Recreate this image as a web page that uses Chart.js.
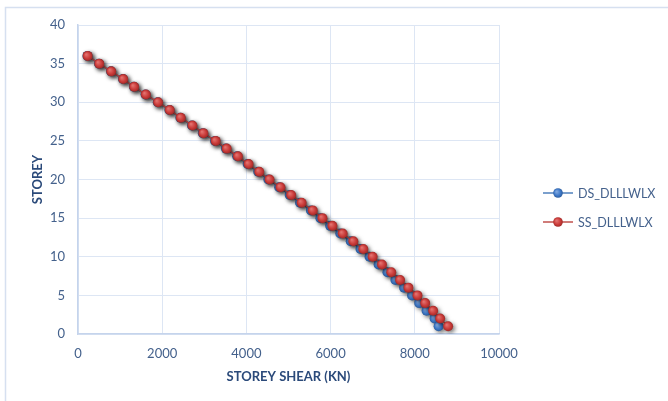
<!DOCTYPE html>
<html>
<head>
<meta charset="utf-8">
<script src="https://cdn.jsdelivr.net/npm/chart.js@4/dist/chart.umd.min.js"></script>
<style>
  html, body { margin: 0; padding: 0; background: #ffffff; }
  #wrap { width: 668px; height: 401px; position: relative; }
</style>
</head>
<body>
<div id="wrap"><canvas id="c" width="668" height="401"></canvas></div>
<script>
// Storey numbers, top to bottom
const storeys = [36,35,34,33,32,31,30,29,28,27,26,25,24,23,22,21,20,19,18,17,16,15,14,13,12,11,10,9,8,7,6,5,4,3,2,1];

// Storey shear (kN) for each load case
const dsShear = [225,500,784,1068,1328,1604,1895,2171,2431,2707,2965,3255,3514,3780,4030,4280,4522,4778,5028,5273,5533,5758,5990,6230,6478,6710,6925,7140,7350,7540,7745,7935,8105,8280,8470,8565];
const ssShear = [229,505,789,1074,1334,1611,1903,2180,2441,2718,2978,3270,3531,3799,4052,4305,4550,4810,5063,5312,5576,5806,6043,6287,6540,6777,6998,7220,7441,7650,7848,8064,8246,8436,8602,8791];

const seriesNames = ['DS_DLLLWLX', 'SS_DLLLWLX'];
const xTicks = [0, 2000, 4000, 6000, 8000, 10000];
const yTicks = [0, 5, 10, 15, 20, 25, 30, 35, 40];

const FONT = 'Lato, "Open Sans", "Liberation Sans", sans-serif';
const TICK_COLOR = '#44618c';
const TITLE_COLOR = '#2b4a7a';
const GRID_COLOR = '#dde6f4';

function toPoints(xs) {
  return xs.map((v, i) => ({ x: v, y: storeys[i] }));
}

// Shaded marker fill, like a lit bead
function beadFill(light, base, dark) {
  return function (c) {
    const chart = c.chart;
    if (!c.parsed || !chart.scales.x) return base;
    const px = chart.scales.x.getPixelForValue(c.parsed.x);
    const py = chart.scales.y.getPixelForValue(c.parsed.y);
    if (!isFinite(px) || !isFinite(py)) return base;
    const g = chart.ctx.createRadialGradient(px - 1.5, py - 1.5, 0.5, px, py, 5.2);
    g.addColorStop(0, light);
    g.addColorStop(0.6, base);
    g.addColorStop(1, dark);
    return g;
  };
}

// Frame lines along the top and left of the canvas, plus white background
const framePlugin = {
  id: 'frame',
  beforeDraw(chart) {
    const ctx = chart.ctx;
    ctx.save();
    ctx.fillStyle = '#ffffff';
    ctx.fillRect(0, 0, chart.width, chart.height);
    ctx.strokeStyle = '#d6e0f0';
    ctx.lineWidth = 1.5;
    ctx.beginPath();
    ctx.moveTo(5.5, chart.height);
    ctx.lineTo(5.5, 7.5);
    ctx.lineTo(chart.width, 7.5);
    ctx.stroke();
    ctx.restore();
  }
};

// Soft drop shadow under the series
const shadowPlugin = {
  id: 'seriesShadow',
  beforeDatasetsDraw(chart) {
    const ctx = chart.ctx;
    ctx.save();
    ctx.shadowColor = 'rgba(0,0,0,0.5)';
    ctx.shadowBlur = 4;
    ctx.shadowOffsetX = 2;
    ctx.shadowOffsetY = 2;
  },
  afterDatasetsDraw(chart) {
    chart.ctx.restore();
  }
};

// Legend on the right side
const sideLegend = {
  id: 'sideLegend',
  afterDraw(chart) {
    const ctx = chart.ctx;
    const rows = [193, 222];
    ctx.save();
    chart.data.datasets.forEach((ds, k) => {
      const y = rows[k];
      ctx.strokeStyle = ds.borderColor;
      ctx.lineWidth = 1.5;
      ctx.beginPath();
      ctx.moveTo(543, y);
      ctx.lineTo(573, y);
      ctx.stroke();
      const g = ctx.createRadialGradient(556.5, y - 1.5, 0.5, 558, y, 5.2);
      g.addColorStop(0, ds.legendLight);
      g.addColorStop(0.6, ds.legendBase);
      g.addColorStop(1, ds.legendDark);
      ctx.fillStyle = g;
      ctx.beginPath();
      ctx.arc(558, y, 4.8, 0, Math.PI * 2);
      ctx.fill();
      ctx.fillStyle = TICK_COLOR;
      ctx.font = '12.5px ' + FONT;
      ctx.textAlign = 'left';
      ctx.textBaseline = 'middle';
      ctx.fillText(ds.label, 578, y + 0.5);
    });
    ctx.restore();
  }
};

const chart = new Chart(document.getElementById('c'), {
  type: 'scatter',
  data: {
    datasets: [
      {
        label: seriesNames[0],
        data: toPoints(dsShear),
        showLine: true,
        borderColor: '#4f81bd',
        borderWidth: 1.5,
        pointRadius: 5,
        pointHoverRadius: 5,
        pointBorderWidth: 0,
        pointBackgroundColor: beadFill('#7fa8e0', '#3d77c6', '#2a5896'),
        legendLight: '#7fa8e0', legendBase: '#3d77c6', legendDark: '#2a5896',
        order: 2
      },
      {
        label: seriesNames[1],
        data: toPoints(ssShear),
        showLine: true,
        borderColor: '#c0504d',
        borderWidth: 1.5,
        pointRadius: 5,
        pointHoverRadius: 5,
        pointBorderWidth: 0,
        pointBackgroundColor: beadFill('#e2706d', '#c93a38', '#992826'),
        legendLight: '#e2706d', legendBase: '#c93a38', legendDark: '#992826',
        order: 1
      }
    ]
  },
  options: {
    responsive: false,
    animation: false,
    events: [],
    layout: { padding: { left: 0, right: 169, top: 25, bottom: 0 } },
    plugins: {
      legend: { display: false },
      tooltip: { enabled: false }
    },
    scales: {
      x: {
        type: 'linear',
        min: xTicks[0],
        max: xTicks[xTicks.length - 1],
        afterBuildTicks(scale) { scale.ticks = xTicks.map(v => ({ value: v })); },
        afterFit(scale) { scale.height = 67; },
        grid: { color: GRID_COLOR, lineWidth: 1, drawTicks: false },
        border: { color: '#c5d4ec', width: 1.5 },
        ticks: {
          padding: 12,
          color: TICK_COLOR,
          font: { family: FONT, size: 13 },
          maxRotation: 0,
          callback: v => String(v)
        },
        title: {
          display: true,
          text: 'STOREY SHEAR (KN)',
          color: TITLE_COLOR,
          font: { family: FONT, size: 13, weight: 'bold' },
          padding: { top: 0, bottom: 16 }
        }
      },
      y: {
        type: 'linear',
        min: yTicks[0],
        max: yTicks[yTicks.length - 1],
        afterBuildTicks(scale) { scale.ticks = yTicks.map(v => ({ value: v })); },
        afterFit(scale) { scale.width = 78; },
        grid: { color: GRID_COLOR, lineWidth: 1, drawTicks: false },
        border: { color: '#c5d4ec', width: 1.5 },
        ticks: {
          padding: 13,
          color: TICK_COLOR,
          font: { family: FONT, size: 13 },
          callback: v => String(v)
        },
        title: {
          display: true,
          text: 'STOREY',
          color: TITLE_COLOR,
          font: { family: FONT, size: 13, weight: 'bold' },
          padding: { top: 30, bottom: 0 }
        }
      }
    }
  },
  plugins: [framePlugin, shadowPlugin, sideLegend]
});
</script>
</body>
</html>
